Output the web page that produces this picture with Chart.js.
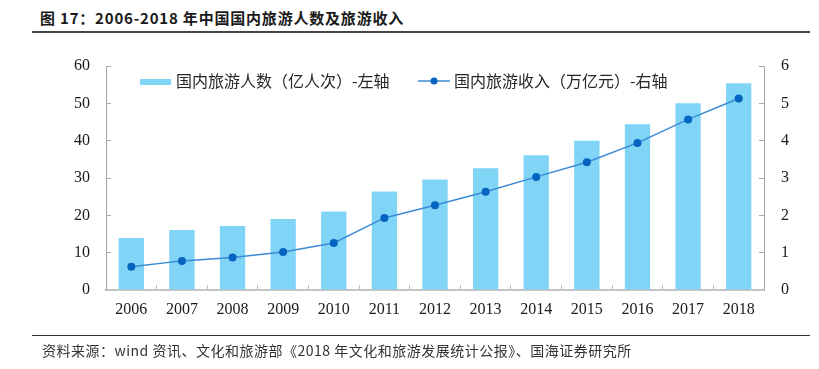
<!DOCTYPE html>
<html>
<head>
<meta charset="utf-8">
<script src="https://cdn.jsdelivr.net/npm/chart.js@4.4.1/dist/chart.umd.min.js"></script>
<style>
    html, body { margin: 0; padding: 0; background: #fff; }
    body { width: 819px; height: 369px; position: relative; overflow: hidden; font-family: "Noto Sans CJK SC", sans-serif; }
    #title { position: absolute; left: 40px; top: 7px; font-size: 15px; font-weight: bold; color: #1a1a1a; letter-spacing: 0.8px; white-space: nowrap; }
    #titleRule { position: absolute; left: 32px; top: 31px; width: 778px; height: 2px; background: #444; }
    #footRule { position: absolute; left: 32px; top: 335px; width: 778px; height: 1px; background: #333; }
    #source { position: absolute; left: 42px; top: 340px; font-size: 14px; color: #333; letter-spacing: 0.5px; white-space: nowrap; }
    #wrap { position: absolute; left: 0; top: 0; width: 819px; height: 369px; }
</style>
</head>
<body>
<div id="title">图 17：2006-2018 年中国国内旅游人数及旅游收入</div>
<div id="titleRule"></div>
<div id="wrap"><canvas id="tourismChart"></canvas></div>
<div id="footRule"></div>
<div id="source">资料来源：wind 资讯、文化和旅游部《2018 年文化和旅游发展统计公报》、国海证券研究所</div>
<script>
// data
const years = ['2006', '2007', '2008', '2009', '2010', '2011', '2012', '2013', '2014', '2015', '2016', '2017', '2018'];
const visitors = [13.94, 16.10, 17.12, 19.02, 21.03, 26.41, 29.57, 32.62, 36.11, 40.00, 44.40, 50.01, 55.39];   // 亿人次
const revenue = [0.62, 0.78, 0.87, 1.02, 1.26, 1.93, 2.27, 2.63, 3.03, 3.42, 3.94, 4.57, 5.13];                 // 万亿元
const leftTicks = [0, 10, 20, 30, 40, 50, 60];
const rightTicks = [0, 1, 2, 3, 4, 5, 6];

const barColor = '#80d5f7';
const lineColor = '#3b8ad6';
const dotColor = '#0563c1';
const axisFont = { family: '"Liberation Serif", "Times New Roman", serif', size: 16 };

// legend drawn by hand, Excel style
const legendPlugin = {
    id: 'excelLegend',
    afterDraw(chart) {
        const ctx = chart.ctx;
        const ds = chart.data.datasets;
        ctx.save();
        ctx.font = '16px "Noto Sans CJK SC", sans-serif';
        ctx.textBaseline = 'middle';

        // bar entry
        ctx.fillStyle = barColor;
        ctx.fillRect(140, 79, 31, 6);
        ctx.fillStyle = '#262626';
        ctx.fillText(ds[0].label, 176, 81);

        // line entry
        ctx.strokeStyle = lineColor;
        ctx.lineWidth = 1.5;
        ctx.beginPath();
        ctx.moveTo(418, 81);
        ctx.lineTo(450, 81);
        ctx.stroke();
        ctx.fillStyle = dotColor;
        ctx.beginPath();
        ctx.arc(434, 81, 3.5, 0, Math.PI * 2);
        ctx.fill();
        ctx.fillStyle = '#262626';
        ctx.fillText(ds[1].label, 454, 81);
        ctx.restore();
    }
};

function initializeTourismChart() {
    const tourismCtx = document.getElementById('tourismChart');
    if (!tourismCtx) return;

    new Chart(tourismCtx, {
        type: 'bar',
        data: {
            labels: years,
            datasets: [{
                label: '国内旅游人数（亿人次）-左轴',
                data: visitors,
                yAxisID: 'y',
                backgroundColor: barColor,
                borderWidth: 0,
                barPercentage: 0.5,
                categoryPercentage: 1.0,
                order: 2
            }, {
                type: 'line',
                label: '国内旅游收入（万亿元）-右轴',
                data: revenue,
                yAxisID: 'y1',
                borderColor: lineColor,
                borderWidth: 1.5,
                pointRadius: 4,
                pointBackgroundColor: dotColor,
                pointBorderColor: dotColor,
                pointBorderWidth: 0,
                tension: 0,
                order: 1
            }]
        },
        options: {
            responsive: false,
            animation: false,
            layout: {
                padding: { left: 0, right: 0, top: 66, bottom: 0 }
            },
            scales: {
                x: {
                    grid: {
                        drawOnChartArea: false,
                        drawTicks: true,
                        tickLength: -5,
                        color: '#bfbfbf',
                        lineWidth: 1
                    },
                    border: { display: true, color: '#c4c4c4', width: 2 },
                    ticks: {
                        font: axisFont,
                        color: '#1a1a1a',
                        padding: 15,
                        maxRotation: 0,
                        autoSkip: false
                    },
                    afterFit: function(scale) { scale.height = 79; }
                },
                y: {
                    position: 'left',
                    min: 0,
                    max: 60,
                    afterBuildTicks: function(scale) {
                        scale.ticks = leftTicks.map(v => ({ value: v }));
                    },
                    grid: {
                        drawOnChartArea: false,
                        drawTicks: true,
                        tickLength: -5,
                        color: '#a6a6a6'
                    },
                    border: { display: true, color: '#a6a6a6', width: 1 },
                    ticks: {
                        font: axisFont,
                        color: '#1a1a1a',
                        padding: 21
                    },
                    afterFit: function(scale) { scale.width = 106; }
                },
                y1: {
                    position: 'right',
                    min: 0,
                    max: 6,
                    afterBuildTicks: function(scale) {
                        scale.ticks = rightTicks.map(v => ({ value: v }));
                    },
                    grid: {
                        drawOnChartArea: false,
                        drawTicks: true,
                        tickLength: -5,
                        color: '#a6a6a6'
                    },
                    border: { display: true, color: '#a6a6a6', width: 1 },
                    ticks: {
                        font: axisFont,
                        color: '#1a1a1a',
                        padding: 22
                    },
                    afterFit: function(scale) { scale.width = 55; }
                }
            },
            plugins: {
                legend: { display: false },
                tooltip: { enabled: false }
            }
        },
        plugins: [legendPlugin]
    });
}

document.addEventListener('DOMContentLoaded', function() {
    const c = document.getElementById('tourismChart');
    c.width = 819;
    c.height = 369;
    initializeTourismChart();
});
</script>
</body>
</html>
